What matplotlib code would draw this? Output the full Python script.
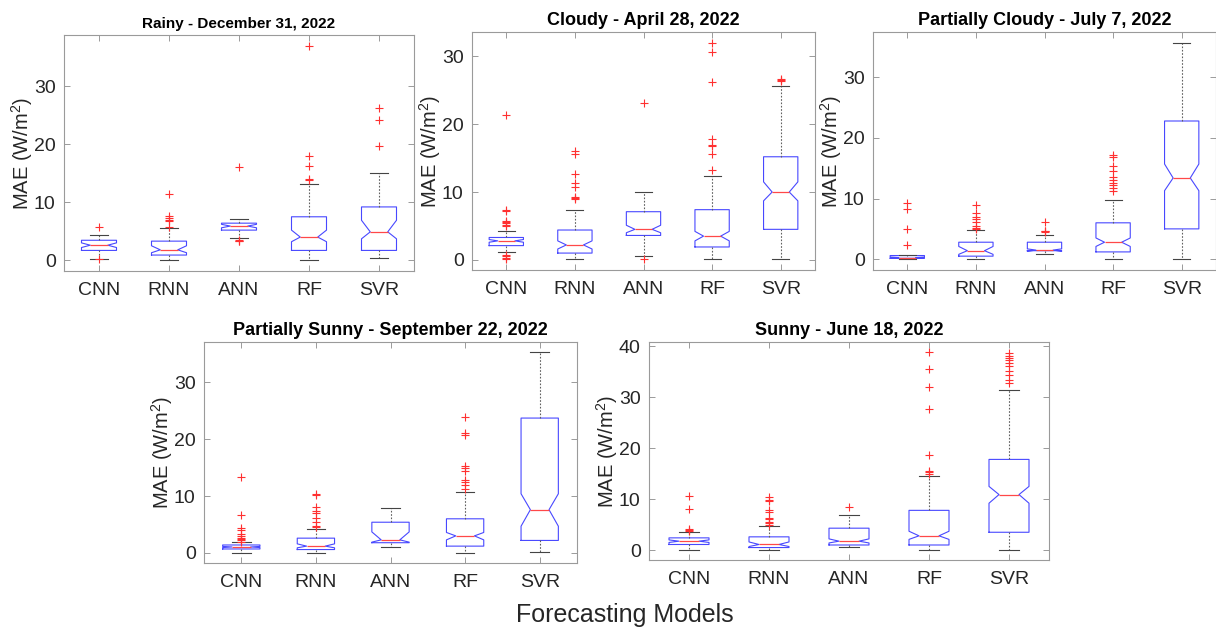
import numpy as np
import matplotlib
matplotlib.use("Agg")
import matplotlib.pyplot as plt
from matplotlib.ticker import MultipleLocator

# ------------------------------------------------------------
# data: box statistics per day (rows) and model (columns)
# ------------------------------------------------------------

MODELS = ["CNN", "RNN", "ANN", "RF", "SVR"]

TITLES = [
    "Rainy - December 31, 2022",
    "Cloudy - April 28, 2022",
    "Partially Cloudy - July 7, 2022",
    "Partially Sunny - September 22, 2022",
    "Sunny - June 18, 2022",
]

MEDIAN = [
    [2.6, 1.8, 5.9, 4.0, 4.9],
    [2.8, 2.2, 4.5, 3.5, 10.0],
    [0.27, 1.4, 1.5, 2.8, 13.4],
    [1.05, 1.2, 2.3, 3.0, 7.6],
    [1.75, 1.1, 1.75, 2.8, 10.9],
]
Q1 = [
    [1.7, 0.9, 5.2, 1.7, 1.7],
    [2.1, 1.0, 3.6, 1.9, 4.5],
    [0.15, 0.5, 1.4, 1.2, 5.0],
    [0.7, 0.6, 1.8, 1.2, 2.2],
    [1.1, 0.5, 1.0, 1.0, 3.5],
]
Q3 = [
    [3.45, 3.3, 6.4, 7.5, 9.2],
    [3.3, 4.4, 7.1, 7.4, 15.2],
    [0.6, 2.8, 2.8, 6.0, 22.8],
    [1.4, 2.6, 5.4, 6.0, 23.7],
    [2.4, 2.6, 4.3, 7.8, 17.8],
]
WHISK_LO = [
    [0.3, 0.0, 3.9, 0.0, 0.4],
    [1.1, 0.1, 0.5, 0.2, 0.1],
    [0.0, 0.0, 0.8, 0.0, 0.0],
    [0.0, 0.0, 1.0, 0.0, 0.1],
    [0.1, 0.1, 0.6, 0.1, 0.0],
]
WHISK_HI = [
    [4.4, 5.6, 7.2, 13.1, 15.1],
    [4.3, 7.4, 10.0, 12.3, 25.7],
    [0.7, 4.8, 4.0, 9.7, 35.7],
    [1.9, 4.2, 7.9, 10.7, 35.3],
    [3.55, 4.8, 6.8, 14.6, 31.5],
]
NOTCH_LO = [
    [2.2, 1.3, 5.6, 3.2, 3.7],
    [2.6, 1.6, 4.0, 2.8, 8.7],
    [0.2, 0.8, 1.3, 2.1, 11.3],
    [0.95, 0.9, 1.9, 2.3, 4.7],
    [1.5, 0.7, 1.4, 2.1, 9.2],
]
NOTCH_HI = [
    [3.0, 2.5, 6.2, 5.2, 6.9],
    [3.0, 2.8, 5.1, 4.2, 11.5],
    [0.35, 2.1, 1.7, 3.5, 15.7],
    [1.15, 1.6, 3.7, 3.6, 10.4],
    [2.0, 1.6, 2.2, 3.7, 12.5],
]
OUTLIERS = [
    [
        [5.7, 0.15],
        [5.7, 6.8, 7.0, 7.3, 7.6, 11.5],
        [3.3, 3.4, 3.5, 16.0],
        [13.8, 14.0, 16.2, 18.0, 37.0],
        [19.7, 24.2, 26.2],
    ],
    [
        [0.2, 0.3, 0.5, 0.7, 5.0, 5.2, 5.4, 5.6, 5.7, 7.2, 7.4, 21.4],
        [8.9, 9.1, 9.3, 10.8, 11.4, 12.6, 15.6, 16.1],
        [0.1, 23.2],
        [13.3, 15.6, 16.8, 17.0, 17.8, 26.2, 30.6, 32.0],
        [26.3, 26.5, 26.7],
    ],
    [
        [2.3, 5.0, 8.2, 9.3],
        [5.0, 5.2, 5.5, 6.2, 6.6, 7.0, 7.7, 9.0],
        [4.5, 4.6, 4.7, 6.1],
        [11.2, 11.7, 12.2, 12.5, 13.0, 13.5, 14.5, 15.3, 16.8, 17.2],
        [],
    ],
    [
        [2.0, 2.2, 2.4, 2.6, 3.0, 3.3, 4.0, 4.4, 6.7, 13.4],
        [4.6, 4.8, 5.5, 6.2, 7.0, 7.4, 8.0, 10.1, 10.3],
        [],
        [11.3, 11.9, 12.4, 12.8, 14.4, 15.0, 15.3, 20.8, 21.0, 23.8],
        [],
    ],
    [
        [3.8, 4.0, 4.2, 8.1, 10.7],
        [5.0, 5.3, 5.5, 6.1, 6.3, 7.4, 7.9, 9.6, 9.8, 10.5],
        [8.4],
        [15.0, 15.3, 15.6, 18.7, 27.7, 32.1, 35.5, 38.9],
        [32.8, 33.3, 34.3, 35.2, 36.2, 36.8, 37.3, 37.7, 38.1, 38.7],
    ],
]

# ------------------------------------------------------------
# layout / style
# ------------------------------------------------------------

FIG_W, FIG_H = 1216, 635

# axes boxes in pixels: left, top, right, bottom
AX_PX = [
    (64, 35, 414, 271),
    (472, 32, 815, 270),
    (873, 32, 1216, 270),
    (204, 342, 577, 563),
    (649, 342, 1049, 560),
]
TITLE_SIZES = [11, 13, 13, 13, 13]

plt.rcParams["font.family"] = ["Liberation Sans", "DejaVu Sans"]
plt.rcParams["mathtext.fontset"] = "custom"
plt.rcParams["mathtext.rm"] = "Liberation Sans"
plt.rcParams["mathtext.default"] = "regular"

BOX_COLOR = "#4848ff"
MED_COLOR = "#ff4848"
WHISK_COLOR = "#606060"
SPINE_COLOR = "#9a9a9a"
TEXT_COLOR = "#262626"

fig = plt.figure(figsize=(FIG_W / 100, FIG_H / 100), dpi=100)

for p in range(len(TITLES)):
    left, top, right, bottom = AX_PX[p]
    ax = fig.add_axes([
        left / FIG_W,
        1 - bottom / FIG_H,
        (right - left) / FIG_W,
        (bottom - top) / FIG_H,
    ])

    stats = []
    for i, name in enumerate(MODELS):
        stats.append({
            "label": name,
            "med": MEDIAN[p][i],
            "q1": Q1[p][i],
            "q3": Q3[p][i],
            "whislo": WHISK_LO[p][i],
            "whishi": WHISK_HI[p][i],
            "cilo": NOTCH_LO[p][i],
            "cihi": NOTCH_HI[p][i],
            "fliers": np.array(OUTLIERS[p][i]),
        })

    ax.bxp(
        stats,
        shownotches=True,
        widths=0.5,
        boxprops=dict(color=BOX_COLOR, linewidth=0.8),
        medianprops=dict(color=MED_COLOR, linewidth=0.9),
        whiskerprops=dict(color=WHISK_COLOR, linewidth=0.8,
                          linestyle=(0, (1.5, 1.5))),
        capprops=dict(color="#444444", linewidth=0.8),
        flierprops=dict(marker="+", markeredgecolor="#ff3030",
                        markersize=6, markeredgewidth=0.8,
                        linestyle="none"),
    )

    # y-range: data extent plus 5% padding
    all_vals = [v for lst in OUTLIERS[p] for v in lst] + WHISK_HI[p] + WHISK_LO[p]
    lo, hi = min(all_vals), max(all_vals)
    pad = 0.05 * (hi - lo)
    ax.set_ylim(lo - pad, hi + pad)
    ax.set_xlim(0.5, len(MODELS) + 0.5)
    ax.yaxis.set_major_locator(MultipleLocator(10))

    ax.set_title(TITLES[p], fontsize=TITLE_SIZES[p], fontweight="bold",
                 color="black", pad=5)
    ax.set_ylabel("MAE (W/m$^2$)", fontsize=14.5, color=TEXT_COLOR,
                  labelpad=-1)

    for s in ax.spines.values():
        s.set_color(SPINE_COLOR)
        s.set_linewidth(0.8)
    ax.tick_params(direction="in", top=True, right=True, length=4,
                   width=0.7, color=SPINE_COLOR, labelsize=14,
                   labelcolor=TEXT_COLOR, pad=6)
    ax.tick_params(axis="x", pad=8)

fig.text(625 / FIG_W, 1 - 615 / FIG_H, "Forecasting Models",
         fontsize=18, color=TEXT_COLOR, ha="center", va="center")

fig.savefig("out.png", dpi=100)
